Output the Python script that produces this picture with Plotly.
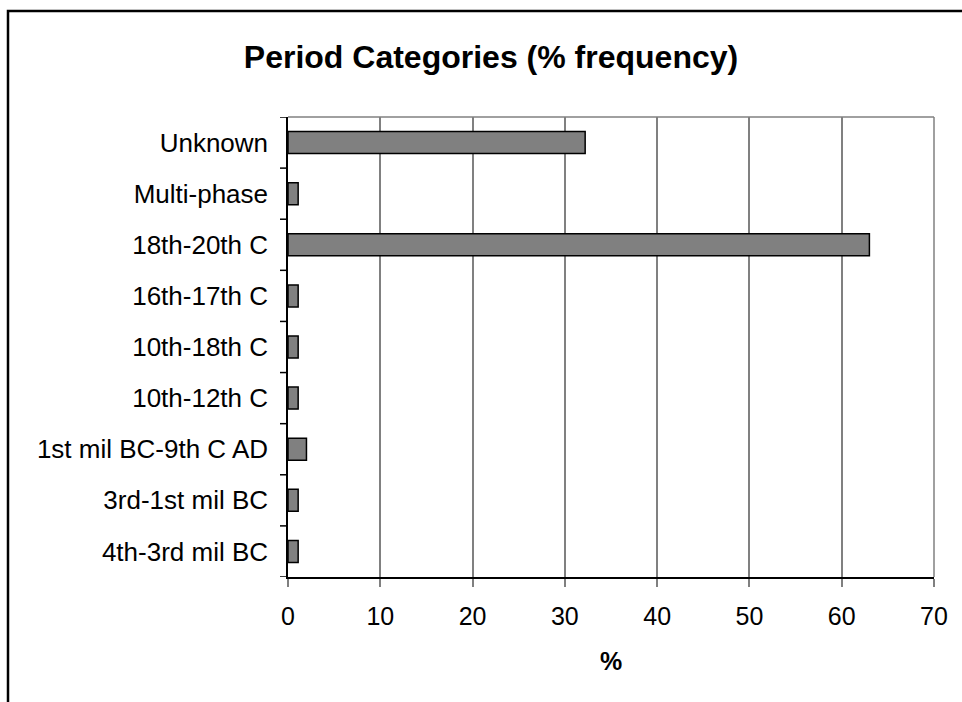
import plotly.graph_objects as go

# Period categories, listed bottom to top as they appear on the y axis
categories = [
    "4th-3rd mil BC",
    "3rd-1st mil BC",
    "1st mil BC-9th C AD",
    "10th-12th C",
    "10th-18th C",
    "16th-17th C",
    "18th-20th C",
    "Multi-phase",
    "Unknown",
]
percent = [1.1, 1.1, 2.0, 1.1, 1.1, 1.1, 63.0, 1.1, 32.2]
x_ticks = [0, 10, 20, 30, 40, 50, 60, 70]

FONT = "Liberation Sans, Arial, sans-serif"

fig = go.Figure(
    go.Bar(
        x=percent,
        y=categories,
        orientation="h",
        width=0.43,
        marker=dict(color="#808080", line=dict(color="#000000", width=1.5)),
        hoverinfo="x+y",
    )
)

fig.update_layout(
    width=962,
    height=702,
    margin=dict(l=288, r=28, t=117, b=125),
    paper_bgcolor="white",
    plot_bgcolor="white",
    showlegend=False,
    title=dict(
        text="<b>Period Categories (% frequency)</b>",
        font=dict(family=FONT, size=32, color="black"),
        x=491 / 962,
        xanchor="center",
        y=1 - 57 / 702,
        yanchor="middle",
    ),
    xaxis=dict(
        range=[0, 70],
        tickvals=x_ticks,
        ticktext=[str(v) for v in x_ticks],
        showgrid=True,
        gridcolor="#808080",
        gridwidth=1.5,
        zeroline=False,
        showline=True,
        linecolor="#000000",
        linewidth=1.5,
        ticks="outside",
        ticklen=8,
        tickcolor="#808080",
        tickwidth=1.5,
        tickfont=dict(family=FONT, size=25, color="black"),
        ticklabelstandoff=8,
        title=dict(text="<b>%</b>", font=dict(family=FONT, size=25, color="black"), standoff=24),
        fixedrange=True,
    ),
    yaxis=dict(
        range=[-0.5, len(categories) - 0.5],
        showgrid=False,
        zeroline=False,
        showline=True,
        linecolor="#000000",
        linewidth=1.5,
        ticks="",
        tickfont=dict(family=FONT, size=26, color="black"),
        ticklabelstandoff=13,
        fixedrange=True,
    ),
    shapes=[
        # outer chart frame
        dict(type="rect", xref="paper", yref="paper",
             x0=-280 / 646, x1=1.2, y0=-0.3, y1=1 + 106 / 460,
             line=dict(color="black", width=2.5), fillcolor="rgba(0,0,0,0)", layer="below"),
        # gray top and right edges of the plotting area
        dict(type="line", xref="paper", yref="paper", x0=0, x1=1, y0=1, y1=1,
             line=dict(color="#808080", width=1.5), layer="below"),
        dict(type="line", xref="paper", yref="paper", x0=1, x1=1, y0=0, y1=1,
             line=dict(color="#808080", width=1.5), layer="below"),
    ],
)

# category separator ticks on the y axis (between bars, extending left)
for i in range(len(categories) + 1):
    fig.add_shape(type="line", xref="paper", yref="y",
                  x0=-8 / 646, x1=0, y0=i - 0.5, y1=i - 0.5,
                  line=dict(color="black", width=1.5))

fig.write_html("out.html")
